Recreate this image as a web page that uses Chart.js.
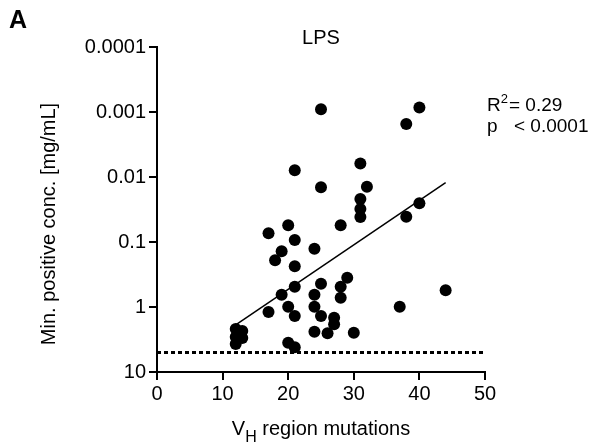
<!DOCTYPE html>
<html>
<head>
<meta charset="utf-8">
<script src="https://cdn.jsdelivr.net/npm/chart.js@4/dist/chart.umd.min.js"></script>
<style>
html,body{margin:0;padding:0;background:#fff;}
canvas{display:block;}
</style>
</head>
<body>
<canvas id="c" width="592" height="448"></canvas>
<script>
// ---- data ----
const mutations = [25, 40, 38, 21, 31, 25, 32, 31, 31, 31, 40, 38, 28, 20, 17, 21, 24, 19, 18, 21,
                   29, 25, 28, 21, 44, 19, 24, 28, 24, 20, 37, 17, 21, 25, 27, 27, 24, 26, 30,
                   12, 12, 12, 13, 13, 20, 21];
const minConc = [0.00091, 0.00085, 0.00153, 0.0079, 0.0062, 0.0144, 0.0141, 0.0218, 0.0311, 0.0412,
                 0.0254, 0.0408, 0.0554, 0.0554, 0.0735, 0.093, 0.127, 0.139, 0.191, 0.237,
                 0.354, 0.438, 0.487, 0.487, 0.553, 0.647, 0.647, 0.72, 0.99, 0.99, 0.99, 1.19,
                 1.37, 1.37, 1.46, 1.85, 2.40, 2.54, 2.48,
                 2.18, 2.89, 3.71, 2.34, 3.0, 3.54, 4.17];
const fitX = [12, 44];
const fitY = [1.89, 0.0122];
const limitX = [0, 50];
const limitY = [5, 5];
const xTicks = [0, 10, 20, 30, 40, 50];
const yTicks = [0.0001, 0.001, 0.01, 0.1, 1, 10];
const yTickLabels = ['0.0001', '0.001', '0.01', '0.1', '1', '10'];
const panelLabel = 'A';
const chartTitle = 'LPS';
const statR2 = '0.29';
const statP = '< 0.0001';

const FONT = '"Liberation Sans", Arial, Helvetica, sans-serif';

const textPlugin = {
  id: 'texts',
  afterDraw(chart) {
    const ctx = chart.ctx;
    const ca = chart.chartArea;
    ctx.save();
    ctx.fillStyle = '#000';
    // panel letter
    ctx.font = 'bold 25px ' + FONT;
    ctx.textAlign = 'left';
    ctx.textBaseline = 'alphabetic';
    ctx.fillText(panelLabel, 9, 28);
    // title
    ctx.font = '20px ' + FONT;
    ctx.textAlign = 'center';
    ctx.fillText(chartTitle, (ca.left + ca.right) / 2, 44);
    // stats
    ctx.textAlign = 'left';
    ctx.font = '19px ' + FONT;
    let x = 487;
    ctx.fillText('R', x, 111);
    x += ctx.measureText('R').width;
    ctx.font = '13px ' + FONT;
    ctx.fillText('2', x, 103);
    x += ctx.measureText('2').width + 1;
    ctx.font = '19px ' + FONT;
    ctx.fillText('= ' + statR2, x, 111);
    ctx.fillText('p', 487, 132);
    ctx.fillText(statP, 514, 132);
    // y axis title
    ctx.save();
    ctx.translate(55, 224);
    ctx.rotate(-Math.PI / 2);
    ctx.textAlign = 'center';
    ctx.font = '20px ' + FONT;
    ctx.fillText('Min. positive conc. [mg/mL]', 0, 0);
    ctx.restore();
    // x axis title with subscript
    ctx.font = '20px ' + FONT;
    const wV = ctx.measureText('V').width;
    const rest = ' region mutations';
    const wR = ctx.measureText(rest).width;
    ctx.font = '16px ' + FONT;
    const wH = ctx.measureText('H').width;
    const total = wV + wH + wR;
    let sx = (ca.left + ca.right) / 2 - total / 2;
    ctx.font = '20px ' + FONT;
    ctx.fillText('V', sx, 435);
    sx += wV;
    ctx.font = '16px ' + FONT;
    ctx.fillText('H', sx, 442);
    sx += wH;
    ctx.font = '20px ' + FONT;
    ctx.fillText(rest, sx, 435);
    ctx.restore();
  }
};

new Chart(document.getElementById('c'), {
  type: 'scatter',
  data: {
    datasets: [
      {
        type: 'scatter',
        data: mutations.map((m, i) => ({ x: m, y: minConc[i] })),
        backgroundColor: '#000',
        borderColor: '#000',
        borderWidth: 0,
        pointRadius: 6,
        pointHoverRadius: 6
      },
      {
        type: 'line',
        data: fitX.map((v, i) => ({ x: v, y: fitY[i] })),
        borderColor: '#000',
        borderWidth: 1.5,
        pointRadius: 0,
        fill: false,
        tension: 0
      },
      {
        type: 'line',
        data: limitX.map((v, i) => ({ x: v, y: limitY[i] })),
        borderColor: '#000',
        borderWidth: 3,
        borderDash: [4, 3],
        pointRadius: 0,
        fill: false,
        tension: 0
      }
    ]
  },
  options: {
    responsive: false,
    animation: false,
    devicePixelRatio: 1,
    layout: { padding: { left: 0, top: 47, right: 107, bottom: 0 } },
    plugins: { legend: { display: false }, tooltip: { enabled: false }, title: { display: false } },
    scales: {
      x: {
        type: 'linear',
        min: 0,
        max: 50,
        afterFit: s => { s.height = 76; },
        afterBuildTicks: s => { s.ticks = xTicks.map(v => ({ value: v })); },
        border: { display: true, color: '#000', width: 2 },
        grid: { display: true, drawOnChartArea: false, drawTicks: true, tickLength: 8, color: '#000', lineWidth: 2 },
        ticks: { color: '#000', font: { family: FONT, size: 20 }, padding: 2, maxRotation: 0, autoSkip: false }
      },
      y: {
        type: 'logarithmic',
        reverse: true,
        min: 0.0001,
        max: 10,
        afterFit: s => { s.width = 157; },
        afterBuildTicks: s => { s.ticks = yTicks.map(v => ({ value: v })); },
        border: { display: true, color: '#000', width: 2 },
        grid: { display: true, drawOnChartArea: false, drawTicks: true, tickLength: 8, color: '#000', lineWidth: 2 },
        ticks: {
          color: '#000',
          font: { family: FONT, size: 20 },
          padding: 3,
          autoSkip: false,
          callback: (v, i) => yTickLabels[i]
        }
      }
    }
  },
  plugins: [textPlugin]
});
</script>
</body>
</html>
